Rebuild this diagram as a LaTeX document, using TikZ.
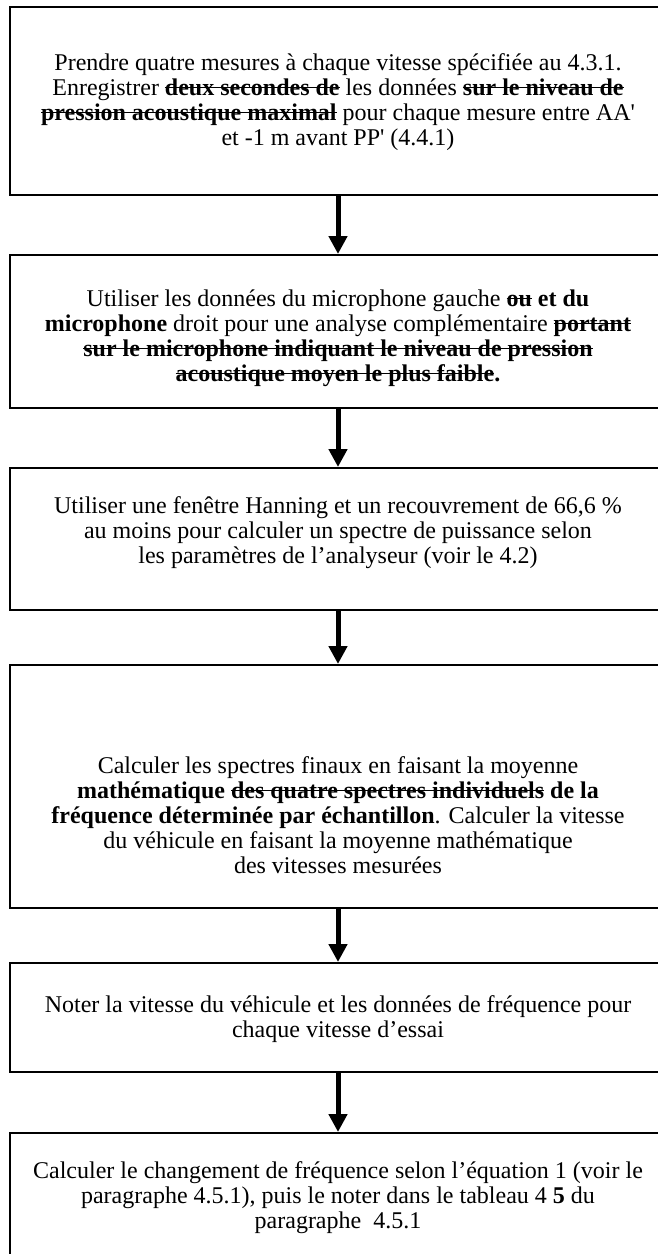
\documentclass[tikz,border=0pt]{standalone}
\usepackage{fontspec}
\setmainfont{Liberation Serif}
\usepackage{tikz}
\usetikzlibrary{arrows.meta}

\newsavebox{\barrebox}
\newcommand{\barre}[1]{\sbox{\barrebox}{#1}\rlap{\rule[0.3em]{\wd\barrebox}{1.4pt}}\usebox{\barrebox}}

\begin{document}
\begin{tikzpicture}[x=1pt,y=-1pt]
      \tikzstyle{etape} = [draw, line width=2pt, minimum width=656pt, inner sep=0pt]
      \tikzstyle{texte} = [align=center, inner sep=0pt, font=\fontsize{24}{25}\selectfont]
      \tikzstyle{fleche} = [-{Triangle[width=18pt,length=18pt]}, line width=5pt]

      \useasboundingbox (0,0) rectangle (658,1254);

      % cadres
      \node[etape, minimum height=188pt] (e1) at (338,101) {};
      \node[etape, minimum height=153pt] (e2) at (338,331.5) {};
      \node[etape, minimum height=142pt] (e3) at (338,539) {};
      \node[etape, minimum height=243pt] (e4) at (338,786.5) {};
      \node[etape, minimum height=109pt] (e5) at (338,1017.5) {};
      \node[etape, minimum height=130pt] (e6) at (338,1198) {};

      % textes
      \node[texte] (t1) at (338,102) {Prendre quatre mesures à chaque vitesse spécifiée au 4.3.1.\\
        Enregistrer \barre{\textbf{deux secondes de}} les données \barre{\textbf{sur le niveau de}}\\
        \barre{\textbf{pression acoustique maximal}} pour chaque mesure entre AA\textquotesingle\\
        et -1 m avant PP\textquotesingle{} (4.4.1)};
      \node[texte] (t2) at (338,338) {Utiliser les données du microphone gauche \barre{\textbf{ou}} \textbf{et du}\\
        \textbf{microphone} droit pour une analyse complémentaire \barre{\textbf{portant}}\\
        \barre{\textbf{sur le microphone indiquant le niveau de pression}}\\
        \barre{\textbf{acoustique moyen le plus faible}}\textbf{.}};
      \node[texte] (t3) at (338,533) {Utiliser une fenêtre Hanning et un recouvrement de 66,6 \%\\
        au moins pour calculer un spectre de puissance selon\\
        les paramètres de l'analyseur (voir le 4.2)};
      \node[texte] (t4) at (338,815) {Calculer les spectres finaux en faisant la moyenne\\
        \textbf{mathématique} \barre{\textbf{des quatre spectres individuels}} \textbf{de la}\\
        \textbf{fréquence déterminée par échantillon}. Calculer la vitesse\\
        du véhicule en faisant la moyenne mathématique\\
        des vitesses mesurées};
      \node[texte] (t5) at (338,1019) {Noter la vitesse du véhicule et les données de fréquence pour\\
        chaque vitesse d'essai};
      \node[texte] (t6) at (338,1198) {Calculer le changement de fréquence selon l'équation 1 (voir le\\
        paragraphe 4.5.1), puis le noter dans le tableau 4 \textbf{5} du\\
        paragraphe~~4.5.1};

      % fleches
      \draw[fleche] (e1) to (e2);
      \draw[fleche] (e2) to (e3);
      \draw[fleche] (e3) to (e4);
      \draw[fleche] (e4) to (e5);
      \draw[fleche] (e5) to (e6);
    \end{tikzpicture}
\end{document}
